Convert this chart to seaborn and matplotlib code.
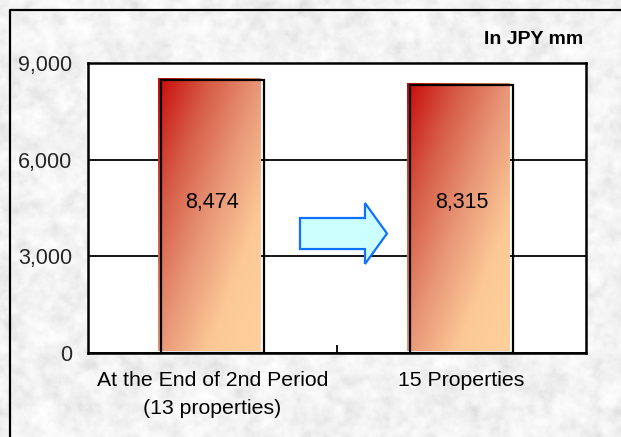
import numpy as np
import pandas as pd
import matplotlib
matplotlib.use("Agg")
import matplotlib.pyplot as plt
import matplotlib.transforms as mtransforms
from matplotlib.patches import Rectangle, FancyArrow
from matplotlib.lines import Line2D
from matplotlib.colors import LinearSegmentedColormap
import seaborn as sns

# Data
categories = ["At the End of 2nd Period\n(13 properties)", "15 Properties"]
values = [8474, 8315]
value_labels = ["8,474", "8,315"]
y_ticks = [0, 3000, 6000, 9000]
y_tick_labels = ["0", "3,000", "6,000", "9,000"]
unit_label = "In JPY mm"

sns.set_theme(style="white")
plt.rcParams["font.family"] = ["Liberation Sans", "DejaVu Sans"]

W, H, DPI = 621, 437, 100
fig = plt.figure(figsize=(W / DPI, H / DPI), dpi=DPI)


def smooth_noise(rng, sigma):
    """Gaussian-filtered white noise, rescaled to 0..1."""
    n = rng.random((H, W))
    f2 = np.fft.fftfreq(H)[:, None] ** 2 + np.fft.fftfreq(W)[None, :] ** 2
    s = np.real(np.fft.ifft2(np.fft.fft2(n) * np.exp(-2 * np.pi ** 2 * sigma ** 2 * f2)))
    return (s - s.min()) / (s.max() - s.min())


# Paper-like grey texture behind everything
rng = np.random.default_rng(3)
tex = (0.45 * smooth_noise(rng, 6) + 0.38 * smooth_noise(rng, 2.5)
       + 0.17 * smooth_noise(rng, 1.0))
tex = (tex - tex.min()) / (tex.max() - tex.min())
tex = np.clip(1.0 - 0.13 * (1 - tex) ** 1.5, 0, 1)
bg = fig.add_axes([0, 0, 1, 1], zorder=-5)
bg.imshow(np.dstack([tex, tex, tex]), aspect="auto", interpolation="bilinear")
bg.axis("off")

# Outer frame (top and left edges)
fx, fy = 9.5 / W, 1 - 9.5 / H
fig.add_artist(Line2D([fx, fx, 1], [0, fy, fy], color="black", lw=1.6,
                      transform=fig.transFigure))

ax = fig.add_axes([88 / W, 1 - 353 / H, (586 - 88) / W, (353 - 63) / H])
ax.set_facecolor("white")

df = pd.DataFrame({"category": categories, "value": values})
sns.barplot(data=df, x="category", y="value", ax=ax, width=0.41,
            color="#e08060", edgecolor="none", zorder=3)

ax.set_xlim(-0.5, 1.5)
ax.set_ylim(0, 9000)
ax.set_yticks(y_ticks)
ax.set_yticklabels(y_tick_labels, fontsize=15.5)
ax.tick_params(axis="y", length=0, pad=11.5)
ax.set_xlabel("")
ax.set_ylabel("")
ax.grid(axis="y", color="black", lw=1.3, zorder=1)
ax.grid(axis="x", visible=False)
for sp in ax.spines.values():
    sp.set_visible(True)
    sp.set_color("black")
    sp.set_linewidth(1.8)
    sp.set_zorder(6)

# Category boundary tick between bars
ax.set_xticks([0, 1])
ax.set_xticklabels([])
ax.tick_params(axis="x", length=0)
ax.set_xticks([0.5], minor=True)
ax.tick_params(axis="x", which="minor", direction="in", length=6, width=1.3,
               color="black", bottom=True)

# Category labels
for i, cat in enumerate(categories):
    ax.annotate(cat, xy=(i, 0), xycoords=("data", "axes fraction"),
                xytext=(0, -13), textcoords="offset points",
                ha="center", va="top", fontsize=15.3, linespacing=1.6,
                color="black", annotation_clip=False)

# Diagonal gradient fill for each bar plus a dark outline
cmap = LinearSegmentedColormap.from_list(
    "bar", ["#c80a0a", "#d65a45", "#e89677", "#fcc996", "#ffd09c"])
gy, gx = np.mgrid[0:1:200j, 0:1:200j]
grad = (gx + gy) / 2.0
shift = mtransforms.ScaledTranslation(-3 / DPI, 2 / DPI, fig.dpi_scale_trans)
for patch, v in zip(ax.patches, values):
    x0, w = patch.get_x(), patch.get_width()
    patch.set_facecolor("none")
    patch.set_transform(ax.transData + shift)
    im = ax.imshow(grad, cmap=cmap, vmin=0, vmax=1, origin="upper",
                   extent=[x0, x0 + w, 0, v], aspect="auto", zorder=3,
                   interpolation="bilinear")
    im.set_transform(ax.transData + shift)
    im.set_clip_path(patch)
    ax.add_patch(Rectangle((x0, 0), w, v, facecolor="none",
                           edgecolor="black", lw=1.6, zorder=4))

ax.set_xlim(-0.5, 1.5)
ax.set_ylim(0, 9000)

# Value labels
for i, txt in enumerate(value_labels):
    ax.text(i, 0.519, txt, transform=ax.get_xaxis_transform(),
            ha="center", va="center", fontsize=15.5, color="black", zorder=5)

# Transition arrow between the bars
ax.add_patch(FancyArrow(0.4257, 0.412, 0.1747, 0, width=0.107,
                        head_width=0.21, head_length=0.0442,
                        length_includes_head=True, transform=ax.transAxes,
                        facecolor="#ccffff", edgecolor="#1070ff", lw=1.6,
                        zorder=5))

fig.text(583 / W, 1 - 40 / H, unit_label, ha="right", va="center",
         fontsize=14, fontweight="bold", color="black")

fig.savefig("out.png", dpi=DPI)
